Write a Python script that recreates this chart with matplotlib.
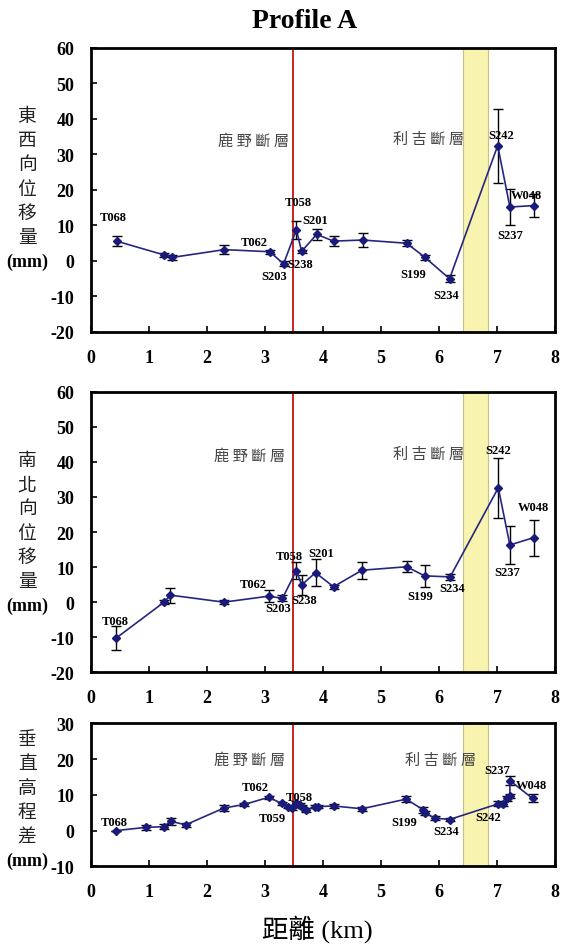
import matplotlib
matplotlib.use("Agg")
import matplotlib.pyplot as plt

plt.rcParams['axes.unicode_minus'] = False

SERIF = ['Liberation Serif', 'DejaVu Serif']
CJK = ['Noto Sans CJK TC', 'DejaVu Sans']

# ---- data (distance km, displacement mm, error mm) ----
ew_x = [0.44, 1.26, 1.40, 2.30, 3.08, 3.32, 3.54, 3.63, 3.89, 4.18, 4.68, 5.44, 5.75, 6.18, 7.01, 7.22, 7.63]
ew_y = [5.6, 1.7, 1.0, 3.2, 2.6, -0.8, 8.8, 2.7, 7.5, 5.6, 5.9, 5.0, 1.1, -5.0, 32.5, 15.2, 15.6]
ew_err = [1.5, 0.5, 0.7, 1.2, 0.6, 0.7, 2.5, 0.5, 1.5, 1.5, 1.9, 0.8, 0.7, 1.0, 10.4, 5.1, 3.3]

ns_x = [0.43, 1.26, 1.37, 2.29, 3.06, 3.30, 3.54, 3.63, 3.87, 4.18, 4.67, 5.44, 5.75, 6.19, 7.02, 7.22, 7.63]
ns_y = [-10.3, 0.0, 2.0, 0.0, 1.7, 1.1, 9.0, 4.9, 8.4, 4.4, 9.1, 10.1, 7.5, 7.2, 32.6, 16.3, 18.4]
ns_err = [3.4, 0.5, 2.1, 0.5, 1.7, 0.8, 2.4, 2.9, 3.9, 0.6, 2.4, 1.5, 3.2, 0.8, 8.6, 5.3, 5.1]

up_x = [0.43, 0.95, 1.25, 1.38, 1.63, 2.29, 2.64, 3.06, 3.29, 3.39, 3.46, 3.54, 3.60, 3.64, 3.71,
        3.86, 3.91, 4.18, 4.67, 5.43, 5.73, 5.76, 5.93, 6.18, 7.02, 7.10, 7.17, 7.22, 7.22, 7.61]
up_y = [0.0, 0.9, 1.1, 2.6, 1.6, 6.3, 7.3, 9.3, 7.6, 6.7, 6.4, 7.6, 7.1, 6.7, 5.8,
        6.7, 6.7, 6.9, 6.1, 8.8, 5.8, 4.9, 3.5, 3.1, 7.5, 7.4, 9.0, 9.6, 14.0, 9.0]
up_err = [0.0, 0.7, 0.7, 0.9, 0.5, 0.8, 0.5, 0.5, 0.5, 0.5, 0.5, 0.6, 0.6, 0.5, 0.5,
          0.5, 0.5, 0.6, 0.6, 0.8, 0.8, 0.6, 0.5, 0.5, 0.7, 0.6, 0.6, 0.6, 1.2, 1.1]

# station labels: (name, x, y)
ew_labels = [('T068', 0.39, 12.4), ('T062', 2.82, 5.4), ('S203', 3.16, -4.2), ('T058', 3.57, 16.6),
             ('S238', 3.60, -0.8), ('S201', 3.87, 11.5), ('S199', 5.56, -3.7), ('S234', 6.13, -9.5),
             ('S242', 7.07, 35.4), ('W048', 7.50, 18.5), ('S237', 7.22, 7.2)]
ns_labels = [('T068', 0.41, -5.3), ('T062', 2.80, 5.2), ('S203', 3.23, -1.8), ('T058', 3.42, 13.3),
             ('S238', 3.67, 0.6), ('S201', 3.96, 14.0), ('S199', 5.67, 1.8), ('S234', 6.23, 4.0),
             ('S242', 7.02, 43.5), ('W048', 7.63, 27.2), ('S237', 7.18, 8.7)]
up_labels = [('T068', 0.40, 2.5), ('T062', 2.83, 12.1), ('T059', 3.13, 3.5), ('T058', 3.59, 9.4),
             ('S199', 5.40, 2.3), ('S234', 6.13, -0.1), ('S242', 6.85, 3.7), ('S237', 7.00, 17.0),
             ('W048', 7.60, 12.8)]

fault1_x = 3.48
fault2_band = (6.42, 6.85)

fig = plt.figure(figsize=(5.64, 9.53), dpi=100)

panels = [
    ([0.1613, 0.6506, 0.823, 0.298], ew_x, ew_y, ew_err, ew_labels, (-20, 60), 10,
     (2.80, 34.0), (5.82, 34.5), ['東', '西', '向', '位', '移', '量'], 0.878),
    ([0.1613, 0.2935, 0.823, 0.2944], ns_x, ns_y, ns_err, ns_labels, (-20, 60), 10,
     (2.74, 41.8), (5.82, 42.3), ['南', '北', '向', '位', '移', '量'], 0.517),
    ([0.1613, 0.0899, 0.823, 0.150], up_x, up_y, up_err, up_labels, (-10, 30), 10,
     (2.74, 20.0), (6.02, 20.0), ['垂', '直', '高', '程', '差'], 0.224),
]

for rect, xs, ys, errs, labels, ylim, ystep, f1pos, f2pos, ychars, ytop in panels:
    ax = fig.add_axes(rect)
    ax.axvspan(*fault2_band, color='#f8f4b0', ec='#c9c27a', lw=0.8, zorder=0)
    ax.axvline(fault1_x, color='#d02020', lw=1.4, zorder=1)
    ax.errorbar(xs, ys, yerr=errs, fmt='-', color='#262680', lw=1.2,
                ecolor='black', elinewidth=1, capsize=3.5, capthick=1, zorder=2)
    ax.plot(xs, ys, 'D', color='#1a1a7a', ms=4.5, zorder=3)
    for name, lx, ly in labels:
        ax.text(lx, ly, name, ha='center', va='center', fontsize=9,
                fontweight='bold', family=SERIF, zorder=4)
    ax.text(*f1pos, '鹿 野 斷 層', ha='center', va='center', fontsize=11,
            family=CJK, color='#444444', fontweight='light')
    ax.text(*f2pos, '利 吉 斷 層', ha='center', va='center', fontsize=11,
            family=CJK, color='#444444', fontweight='light')
    ax.set_xlim(0, 8)
    ax.set_ylim(*ylim)
    ax.set_xticks(range(0, 9))
    ax.set_yticks(range(ylim[0], ylim[1] + 1, ystep))
    ax.tick_params(direction='in', length=4, width=1.2, pad=12, top=False, right=False)
    for lab in ax.get_xticklabels() + ax.get_yticklabels():
        lab.set_fontfamily(SERIF)
        lab.set_fontweight('bold')
        lab.set_fontsize(13)
    for sp in ax.spines.values():
        sp.set_linewidth(2)

    # stacked vertical y label
    step = 0.0255
    for i, ch in enumerate(ychars):
        fig.text(0.048, ytop - i * step, ch, ha='center', va='center',
                 fontsize=13.5, family=CJK, color='#222222')
    fig.text(0.048, ytop - len(ychars) * step, '(mm)', ha='center', va='center',
             fontsize=13, fontweight='bold', family=SERIF)

fig.text(0.54, 0.977, 'Profile A', ha='center', va='center', fontsize=20,
         fontweight='bold', family=SERIF)
fig.text(0.562, 0.025, '距離 (km)', ha='center', va='center', fontsize=19,
         family=['Liberation Serif', 'Noto Sans CJK TC'])

fig.savefig('out.png', dpi=100)
